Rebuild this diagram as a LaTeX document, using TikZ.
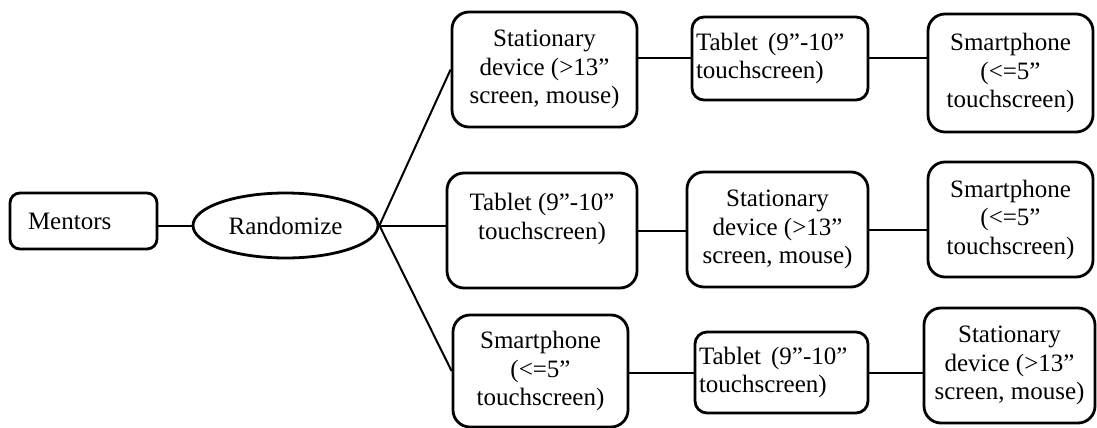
\documentclass[tikz,border=0pt]{standalone}
\usepackage{fontspec}
\setmainfont{Liberation Serif}
\usetikzlibrary{shapes.geometric}

\begin{document}
\begin{tikzpicture}[x=1pt,y=-1pt,
  box/.style={draw,line width=2.8pt,rounded corners=17pt,align=center,
    inner sep=2pt,font=\fontsize{25}{28.5}\selectfont},
  leftbox/.style={box,align=left,inner xsep=4pt},
  link/.style={line width=2pt}]

\useasboundingbox (0,0) rectangle (1097,428);

\node [box,leftbox,inner xsep=18pt,text width=111pt,minimum height=56pt,rounded corners=10pt] (mentors) at (83.5,221) {Mentors};
\node [draw,ellipse,line width=2.8pt,minimum width=185pt,minimum height=65pt,inner sep=0pt,
  font=\fontsize{25}{28.5}\selectfont] (rand) at (285.5,225.5) {Randomize};

\node [box,minimum width=185pt,minimum height=115pt] (a1) at (544.5,69.5) {Stationary\\device (>13”\\screen, mouse)};
\node [leftbox,text width=168pt,minimum height=83pt,rounded corners=12pt] (a2) at (780,58.5) {Tablet\hspace{10pt}(9”-10”\\touchscreen)};
\node [box,minimum width=165pt,minimum height=118pt] (a3) at (1010.5,73) {Smartphone\\(<=5”\\touchscreen)};

\node [box,minimum width=190pt,minimum height=115pt] (b1) at (542,230.5) {Tablet (9”-10”\\touchscreen)\\ ~};
\node [box,minimum width=181pt,minimum height=115pt] (b2) at (777.5,229.5) {Stationary\\device (>13”\\screen, mouse)};
\node [box,minimum width=165pt,minimum height=115pt] (b3) at (1010.5,219.5) {Smartphone\\(<=5”\\touchscreen)};

\node [box,minimum width=175pt,minimum height=112pt] (c1) at (540.5,371) {Smartphone\\(<=5”\\touchscreen)};
\node [leftbox,text width=165pt,minimum height=81pt,rounded corners=12pt] (c2) at (781.5,372.5) {Tablet\hspace{10pt}(9”-10”\\touchscreen)};
\node [box,minimum width=171pt,minimum height=115pt] (c3) at (1009.5,365.5) {Stationary\\device (>13”\\screen, mouse)};

\draw [link] (mentors.east |- rand.west) -- (rand.west);
\draw [link] (rand.east) -- (a1.west);
\draw [link] (rand.east) -- (rand.east -| b1.west);
\draw [link] (rand.east) -- (c1.west);

\draw [link] (a2.west -| a1.east) -- (a2.west);
\draw [link] (a2.east) -- (a2.east -| a3.west);
\draw [link] (b1.east) -- (b1.east -| b2.west);
\draw [link] (b2.east) -- (b2.east -| b3.west);
\draw [link] (c2.west -| c1.east) -- (c2.west);
\draw [link] (c2.east) -- (c2.east -| c3.west);

\end{tikzpicture}
\end{document}
